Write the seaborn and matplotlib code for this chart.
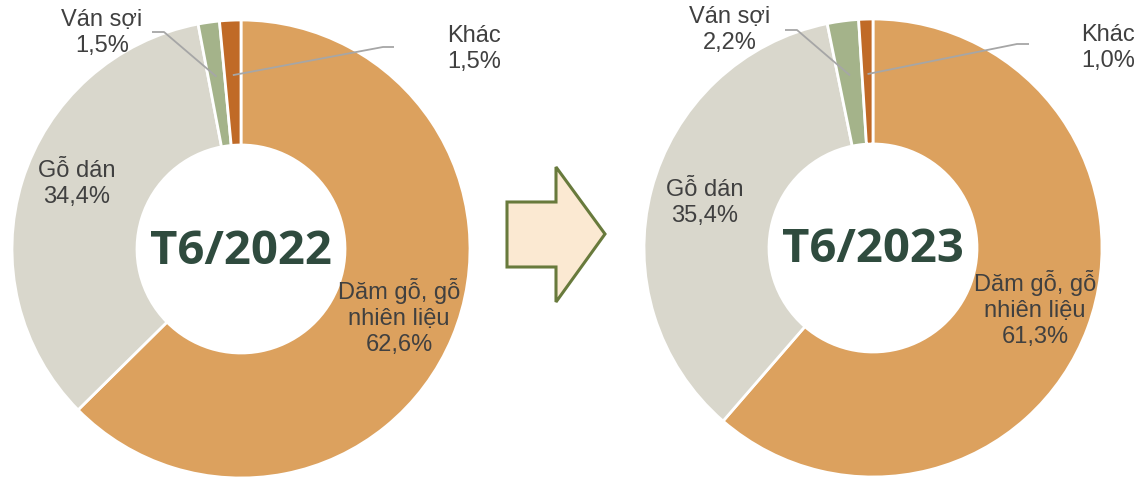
import matplotlib
matplotlib.use("Agg")
import matplotlib.pyplot as plt
import matplotlib.patches as mpatches
import numpy as np
import seaborn as sns

# ---------------- data ----------------
categories = ["Dăm gỗ, gỗ\nnhiên liệu", "Gỗ dán", "Ván sợi", "Khác"]
values_2022 = [62.6, 34.4, 1.5, 1.5]
values_2023 = [61.3, 35.4, 2.2, 1.0]
titles = ["T6/2022", "T6/2023"]
colors = ["#DCA15E", "#D9D7CC", "#A4B38A", "#C06A27"]

sns.set_theme(style="white")
plt.rcParams["font.family"] = ["Liberation Sans", "DejaVu Sans"]

W, H = 1142, 479
fig = plt.figure(figsize=(W / 100, H / 100), dpi=100)
ax = fig.add_axes([0, 0, 1, 1])
ax.set_xlim(0, W)
ax.set_ylim(0, H)
ax.set_aspect("equal")
ax.axis("off")


def py(y):
    return H - y


R_OUT = 229
R_IN = 104
TXT = "#404040"
LINE = "#A6A6A6"
FS = 17
LS = 1.25


def fmt(v):
    return f"{v:.1f}%".replace(".", ",")


def draw_donut(cx, cy, values, title, lab):
    ax.pie(values, colors=colors, startangle=90, counterclock=False,
           center=(cx, py(cy)), radius=R_OUT, frame=True,
           wedgeprops=dict(width=R_OUT - R_IN, edgecolor="white", linewidth=2))
    ax.text(cx, py(cy + 2), title, ha="center", va="center", fontsize=34,
            fontweight="bold", color="#2F4B3E", family=["Open Sans", "DejaVu Sans"])
    total = sum(values)
    cum = np.cumsum([0] + list(values))
    mids = []
    for i in range(len(values)):
        frac = (cum[i] + values[i] / 2) / total
        ang = np.deg2rad(90 - 360 * frac)
        mids.append(ang)
    # big labels
    for i in (0, 1):
        x, y = lab[i]
        ax.text(x, py(y), f"{categories[i]}\n{fmt(values[i])}", ha="center",
                va="center", fontsize=FS, color=TXT, linespacing=LS)
    # small labels with leader lines
    r_anchor = 0.76 * R_OUT
    for i in (2, 3):
        x, y = lab[i][0]
        elbow, end = lab[i][1], lab[i][2]
        ax.text(x, py(y), f"{categories[i]}\n{fmt(values[i])}", ha="center",
                va="center", fontsize=FS, color=TXT, linespacing=LS)
        axp = cx + r_anchor * np.cos(mids[i])
        ayp = py(cy) + r_anchor * np.sin(mids[i])
        ax.plot([axp, elbow[0], end[0]], [ayp, py(elbow[1]), py(end[1])],
                color=LINE, lw=1.3, solid_capstyle="butt")


draw_donut(241, 249, values_2022, titles[0],
           {0: (399, 317), 1: (77, 184),
            2: ((102, 33), (164, 32), (152, 32)),
            3: ((474, 49), (383, 47), (394, 47))})
draw_donut(873, 248, values_2023, titles[1],
           {0: (1035, 309), 1: (705, 203),
            2: ((730, 30), (797, 30), (785, 30)),
            3: ((1108, 48), (1017, 44), (1029, 44))})

# arrow between the donuts
arrow_pts = [(507, 202), (556, 202), (556, 167), (605, 234), (556, 302),
             (556, 267), (507, 267)]
ax.add_patch(mpatches.Polygon([(x, py(y)) for x, y in arrow_pts], closed=True,
                              facecolor="#FBE9D2", edgecolor="#687A3C", lw=2.2))

ax.set_xlim(0, W)
ax.set_ylim(0, H)
fig.savefig("out.png", dpi=100, facecolor="white")
